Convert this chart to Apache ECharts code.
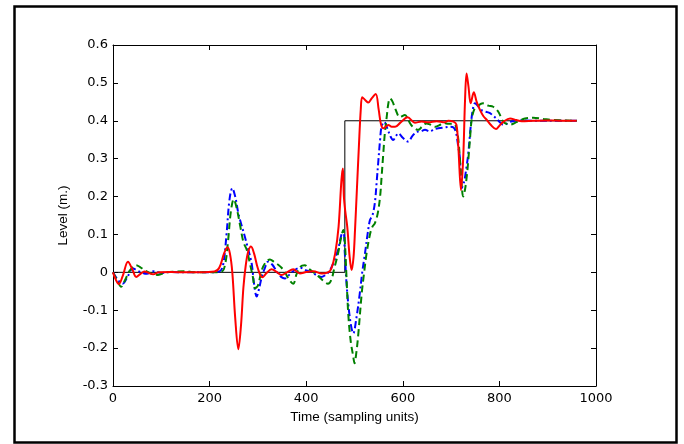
<!DOCTYPE html>
<html>
<head>
<meta charset="utf-8">
<script src="https://cdn.jsdelivr.net/npm/echarts@6/dist/echarts.min.js"></script>
<style>
  html, body { margin: 0; padding: 0; background: #fff; }
  #chart { width: 684px; height: 444px; }
</style>
</head>
<body>
<div id="chart"></div>
<script>
// Reference level (setpoint step)
const refTime = [0, 480, 480, 960];
const refLevel = [0, 0, 0.4, 0.4];

// Controller A (blue, dash-dot)
const blueTime = [0, 10, 20, 30, 41, 55, 70, 85, 100, 120, 150, 200, 220, 228, 235, 241, 247, 253, 259.5, 266, 273, 280, 287, 292, 297.5, 303, 308, 314, 321, 330, 340, 348, 356, 366, 376, 388, 400, 412, 422, 432, 442, 449, 458, 466, 473, 477, 480, 484, 491, 497.5, 504, 511, 516, 521.7, 527, 532, 537, 542, 546, 549, 553, 556, 561.7, 568, 574, 580, 586, 590.7, 600, 611, 620, 628.7, 637, 646, 656, 665, 673.5, 685, 697.7, 705, 710, 715, 718, 722, 727, 731, 735.6, 740.5, 745, 749.5, 755, 763, 772, 780.5, 788, 794, 801, 808, 815, 822, 840, 870, 900, 960];
const blueLevel = [0, -0.02, -0.03, -0.012, 0.01, 0.002, -0.004, 0.003, -0.002, 0.001, 0, 0, 0.002, 0.02, 0.1, 0.19, 0.222, 0.2, 0.156, 0.125, 0.094, 0.06, 0.024, -0.03, -0.064, -0.04, -0.012, 0.01, 0.028, 0.02, 0, -0.012, -0.016, -0.005, 0.006, 0.012, 0.005, 0, -0.008, -0.012, -0.005, 0.005, 0.03, 0.06, 0.1, 0.11, 0.05, -0.038, -0.126, -0.161, -0.12, -0.055, 0, 0.05, 0.1, 0.138, 0.15, 0.182, 0.24, 0.288, 0.35, 0.384, 0.397, 0.38, 0.36, 0.349, 0.36, 0.367, 0.355, 0.345, 0.36, 0.371, 0.372, 0.376, 0.372, 0.378, 0.38, 0.382, 0.384, 0.382, 0.37, 0.33, 0.305, 0.222, 0.24, 0.27, 0.314, 0.384, 0.43, 0.446, 0.44, 0.428, 0.424, 0.42, 0.412, 0.406, 0.396, 0.389, 0.392, 0.397, 0.401, 0.4, 0.4, 0.4];

// Controller B (green, dashed)
const greenTime = [0, 8, 17, 25, 35, 48, 56, 65, 80, 93, 110, 130, 148, 170, 200, 225, 232, 238, 244, 250, 256, 263, 270, 277, 284, 290, 294, 300, 308, 316, 325, 333, 342, 349, 356, 365, 373, 380, 387, 397, 405, 415, 425, 435, 445, 452, 458, 466, 472, 477, 480, 483, 487, 492, 497.5, 500, 504, 508, 515, 520, 525, 532, 537, 542, 548, 553, 556, 559.6, 563, 566.7, 570, 573.5, 579, 584, 594, 604.5, 612, 620, 632, 640, 649, 657, 666.7, 675, 685, 695, 705, 710, 715, 720, 725, 729, 733, 735.6, 739, 742.5, 748, 756, 766, 777, 787, 797.7, 808, 815, 822, 836, 853, 870, 890, 910, 930, 960];
const greenLevel = [0, -0.02, -0.038, -0.02, 0.005, 0.019, 0.014, 0.006, -0.004, -0.007, 0, 0.002, 0.003, 0, 0, 0.002, 0.02, 0.08, 0.16, 0.193, 0.17, 0.125, 0.08, 0.059, 0.02, -0.015, -0.042, -0.035, 0.006, 0.026, 0.034, 0.028, 0.02, 0.012, 0, -0.02, -0.03, -0.005, 0.014, 0.019, 0.01, 0, -0.01, -0.022, -0.03, -0.02, 0.01, 0.05, 0.09, 0.112, 0.08, 0, -0.108, -0.18, -0.223, -0.24, -0.21, -0.161, -0.055, 0, 0.05, 0.1, 0.12, 0.129, 0.155, 0.2, 0.25, 0.314, 0.37, 0.41, 0.445, 0.459, 0.45, 0.433, 0.41, 0.415, 0.4, 0.385, 0.376, 0.385, 0.393, 0.39, 0.384, 0.388, 0.394, 0.392, 0.392, 0.385, 0.35, 0.27, 0.2, 0.22, 0.26, 0.296, 0.35, 0.402, 0.43, 0.44, 0.446, 0.44, 0.437, 0.424, 0.397, 0.392, 0.39, 0.397, 0.406, 0.408, 0.405, 0.402, 0.401, 0.4];

// Controller C (red, solid)
const redTime = [0, 6, 12, 20, 31, 40, 48, 57, 65, 75, 83, 95, 120, 150, 180, 210, 220, 230, 237, 242, 247, 253, 259.5, 265, 270, 275, 280, 285.7, 292, 300, 309, 318, 328, 338, 349, 360, 373, 387, 400, 415, 432, 445, 452, 460, 467, 473, 476, 478, 481, 485, 490, 494, 498, 501, 505, 509, 513, 516, 522, 528.6, 536, 544, 550, 555, 560, 566, 570, 577, 584, 595, 610, 625, 639, 653, 670, 687, 694, 705, 711, 715, 720.5, 725, 729, 732, 736, 740.5, 747, 753, 760, 767, 774, 783, 793, 800, 808, 822, 835, 846, 870, 900, 930, 960];
const redLevel = [0, -0.02, -0.031, -0.01, 0.028, 0.008, -0.012, -0.004, 0.002, -0.002, -0.005, 0, 0.001, 0, 0, 0.002, 0.012, 0.05, 0.066, 0.05, 0, -0.12, -0.203, -0.14, -0.04, 0.02, 0.055, 0.068, 0.05, 0.01, -0.013, -0.002, 0.008, 0.002, -0.007, 0, 0.008, -0.003, 0.001, 0.003, -0.003, 0, 0.01, 0.05, 0.12, 0.244, 0.274, 0.2, 0.16, 0.12, 0.04, 0.006, 0.04, 0.11, 0.22, 0.33, 0.43, 0.462, 0.455, 0.448, 0.46, 0.471, 0.43, 0.39, 0.38, 0.386, 0.389, 0.384, 0.384, 0.395, 0.409, 0.395, 0.398, 0.396, 0.399, 0.396, 0.4, 0.398, 0.39, 0.33, 0.217, 0.3, 0.46, 0.525, 0.49, 0.446, 0.475, 0.45, 0.428, 0.412, 0.402, 0.388, 0.378, 0.387, 0.397, 0.406, 0.402, 0.399, 0.4, 0.401, 0.4, 0.4];

const xTicks = [0, 200, 400, 600, 800, 1000];
const yTicks = [-0.3, -0.2, -0.1, 0, 0.1, 0.2, 0.3, 0.4, 0.5, 0.6];

const zip = (t, v) => t.map((x, i) => [x, v[i]]);

const tickFont = { fontFamily: 'DejaVu Sans', fontSize: 13, color: '#000' };
const titleFont = { fontFamily: 'Liberation Sans', fontSize: 13.5, color: '#000' };
const frameAxis = {
  min: 0, max: 1000, interval: 200,
  axisLine: { show: true, onZero: false, lineStyle: { color: '#000', width: 1 } },
  axisTick: { show: true, inside: true, length: 5, lineStyle: { color: '#000' } },
  splitLine: { show: false }
};

const chart = echarts.init(document.getElementById('chart'), null, { renderer: 'canvas' });
chart.setOption({
  animation: false,
  backgroundColor: '#fff',
  grid: { left: 113, top: 45, width: 483, height: 341, show: false },
  xAxis: [
    Object.assign({}, frameAxis, {
      type: 'value', position: 'bottom',
      axisLabel: Object.assign({ margin: 6, formatter: v => xTicks.includes(v) ? String(v) : '' }, tickFont),
      name: 'Time (sampling units)', nameLocation: 'middle', nameGap: 16,
      nameTextStyle: titleFont
    }),
    Object.assign({}, frameAxis, { type: 'value', position: 'top', axisLabel: { show: false } })
  ],
  yAxis: [
    {
      type: 'value', position: 'left', min: -0.3, max: 0.6, interval: 0.1,
      axisLine: { show: true, onZero: false, lineStyle: { color: '#000', width: 1 } },
      axisTick: { show: true, inside: true, length: 5, lineStyle: { color: '#000' } },
      splitLine: { show: false },
      axisLabel: Object.assign({
        margin: 5,
        formatter: v => { const r = Math.round(v * 10) / 10; return r === 0 ? '0' : r.toFixed(1); }
      }, tickFont),
      name: 'Level (m.)', nameLocation: 'middle', nameGap: 43, nameRotate: 90,
      nameTextStyle: titleFont
    },
    {
      type: 'value', position: 'right', min: -0.3, max: 0.6, interval: 0.1,
      axisLine: { show: true, onZero: false, lineStyle: { color: '#000', width: 1 } },
      axisTick: { show: true, inside: true, length: 5, lineStyle: { color: '#000' } },
      splitLine: { show: false },
      axisLabel: { show: false }
    }
  ],
  graphic: [{
    type: 'rect', left: 12, top: 4, silent: true, z: 100,
    shape: { width: 662, height: 436 },
    style: { fill: 'none', stroke: '#000', lineWidth: 2.5 }
  }],
  series: [
    {
      name: 'Reference', type: 'line', data: zip(refTime, refLevel),
      showSymbol: false, symbol: 'none',
      lineStyle: { color: '#000', width: 1 }, z: 2
    },
    {
      name: 'Controller A', type: 'line', data: zip(blueTime, blueLevel),
      showSymbol: false, symbol: 'none', smooth: 0.35,
      lineStyle: { color: '#0000ff', width: 2, type: [7, 3, 2, 3] }, z: 3
    },
    {
      name: 'Controller B', type: 'line', data: zip(greenTime, greenLevel),
      showSymbol: false, symbol: 'none', smooth: 0.35,
      lineStyle: { color: '#008000', width: 2, type: [7, 4] }, z: 4
    },
    {
      name: 'Controller C', type: 'line', data: zip(redTime, redLevel),
      showSymbol: false, symbol: 'none', smooth: 0.35,
      lineStyle: { color: '#ff0000', width: 2 }, z: 5
    }
  ]
});
</script>
</body>
</html>
